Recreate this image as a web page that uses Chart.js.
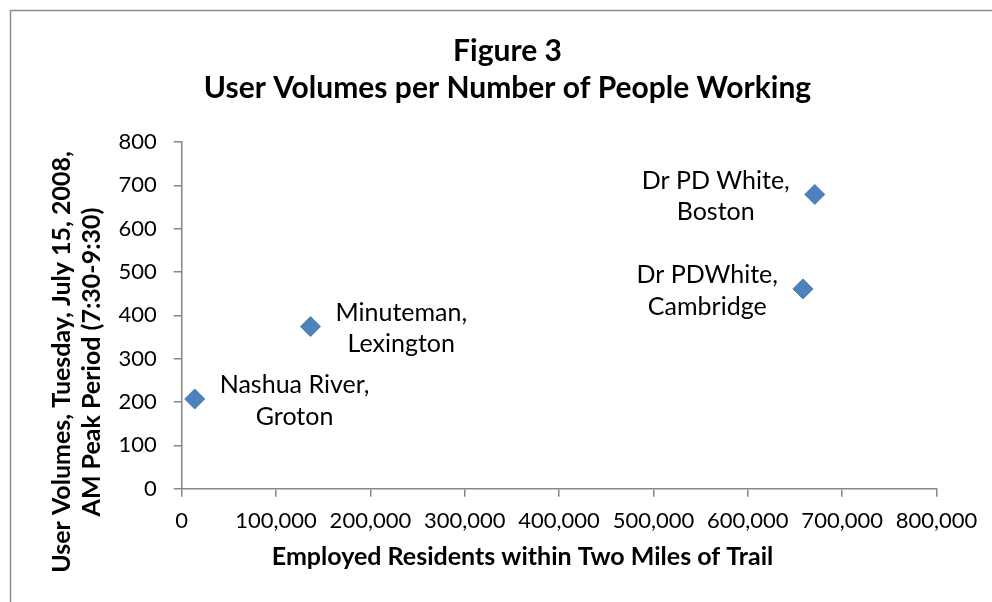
<!DOCTYPE html>
<html><head><meta charset="utf-8">
<script src="https://cdn.jsdelivr.net/npm/chart.js@4.4.1/dist/chart.umd.min.js"></script>
<style>html,body{margin:0;padding:0;background:#fff;overflow:hidden;}canvas{display:block;}</style>
</head><body>
<canvas id="c" width="992" height="602"></canvas>
<script>
// ---- data ----
const trailNames = [['Nashua River,', 'Groton'], ['Minuteman,', 'Lexington'], ['Dr PD White,', 'Boston'], ['Dr PDWhite,', 'Cambridge']];
const employedResidents = [13800, 136500, 671000, 658500];
const userVolumes = [207, 374, 679, 461];
const xTicks = [0, 100000, 200000, 300000, 400000, 500000, 600000, 700000, 800000];
const yTicks = [0, 100, 200, 300, 400, 500, 600, 700, 800];
const titleLines = ['Figure 3', 'User Volumes per Number of People Working'];
const xTitle = 'Employed Residents within Two Miles of Trail';
const yTitleLines = ['User Volumes, Tuesday, July 15, 2008,', 'AM Peak Period (7:30-9:30)'];

const FONT = 'Lato';
const AXIS_GRAY = '#868686';

const points = employedResidents.map((x, i) => ({x: x, y: userVolumes[i]}));

const frameAndTitles = {
  id: 'frameAndTitles',
  beforeDraw(chart) {
    const ctx = chart.ctx;
    ctx.save();
    ctx.fillStyle = '#fff';
    ctx.fillRect(0, 0, chart.width, chart.height);
    ctx.strokeStyle = '#8c8c8c';
    ctx.lineWidth = 1.5;
    ctx.beginPath();
    ctx.moveTo(10.5, chart.height + 5);
    ctx.lineTo(10.5, 10.5);
    ctx.lineTo(chart.width + 5, 10.5);
    ctx.stroke();
    ctx.restore();
  },
  afterDraw(chart) {
    const ctx = chart.ctx;
    ctx.save();
    ctx.fillStyle = '#000';
    ctx.textAlign = 'center';
    ctx.textBaseline = 'alphabetic';
    ctx.font = 'bold 30px ' + FONT;
    ctx.fillText(titleLines[0], 507.5, 61);
    ctx.fillText(titleLines[1], 507.5, 98);
    ctx.font = 'bold 25px ' + FONT;
    ctx.textBaseline = 'middle';
    ctx.fillText(xTitle, 522.5, 557);
    ctx.save();
    ctx.translate(62, 362);
    ctx.rotate(-Math.PI / 2);
    ctx.fillText(yTitleLines[0], 0, 0);
    ctx.fillText(yTitleLines[1], 0, 30);
    ctx.restore();
    ctx.restore();
  }
};

const pointLabels = {
  id: 'pointLabels',
  afterDatasetsDraw(chart, args, opts) {
    const ctx = chart.ctx;
    const meta = chart.getDatasetMeta(0);
    ctx.save();
    ctx.font = opts.fontSize + 'px ' + FONT;
    ctx.fillStyle = '#000';
    ctx.textAlign = 'center';
    ctx.textBaseline = 'middle';
    meta.data.forEach((pt, i) => {
      const lines = trailNames[i];
      const w = Math.max(...lines.map(l => ctx.measureText(l).width));
      const side = opts.sides[i];
      const cx = side === 'right' ? pt.x + opts.gap + w / 2 : pt.x - opts.gap - w / 2;
      const cy = pt.y + opts.dy;
      const n = lines.length;
      lines.forEach((l, k) => {
        ctx.fillText(l, cx, cy + (k - (n - 1) / 2) * opts.lineHeight);
      });
    });
    ctx.restore();
  }
};

new Chart(document.getElementById('c'), {
  type: 'scatter',
  data: {
    datasets: [{
      label: 'User volumes',
      data: points,
      pointStyle: 'rectRot',
      pointRadius: 10,
      pointHoverRadius: 10,
      backgroundColor: '#4F81BD',
      borderColor: '#4A7EBB',
      borderWidth: 1
    }]
  },
  options: {
    responsive: false,
    animation: false,
    devicePixelRatio: 1,
    layout: {padding: {left: 0, top: 142, right: 55.5, bottom: 0}},
    plugins: {
      legend: {display: false},
      title: {display: false},
      tooltip: {enabled: false},
      pointLabels: {sides: ['right', 'right', 'left', 'left'], gap: 25, dy: 2, lineHeight: 31.5, fontSize: 25}
    },
    scales: {
      x: {
        type: 'linear',
        min: xTicks[0],
        max: xTicks[xTicks.length - 1],
        afterFit(scale) { scale.height = 113.3; },
        afterBuildTicks(scale) { scale.ticks = xTicks.map(v => ({value: v})); },
        ticks: {
          font: {family: FONT, size: 22},
          color: '#000',
          padding: 11,
          maxRotation: 0,
          callback: v => v.toLocaleString('en-US')
        },
        grid: {display: true, drawOnChartArea: false, drawTicks: true, tickLength: 8, color: AXIS_GRAY, lineWidth: 1.5},
        border: {display: true, color: AXIS_GRAY, width: 1.5}
      },
      y: {
        type: 'linear',
        min: yTicks[0],
        max: yTicks[yTicks.length - 1],
        afterFit(scale) { scale.width = 181.7; },
        afterBuildTicks(scale) { scale.ticks = yTicks.map(v => ({value: v})); },
        ticks: {
          font: {family: FONT, size: 22},
          color: '#000',
          padding: 17
        },
        grid: {display: true, drawOnChartArea: false, drawTicks: true, tickLength: 8, color: AXIS_GRAY, lineWidth: 1.5},
        border: {display: true, color: AXIS_GRAY, width: 1.5}
      }
    }
  },
  plugins: [frameAndTitles, pointLabels]
});
</script>
</body></html>
